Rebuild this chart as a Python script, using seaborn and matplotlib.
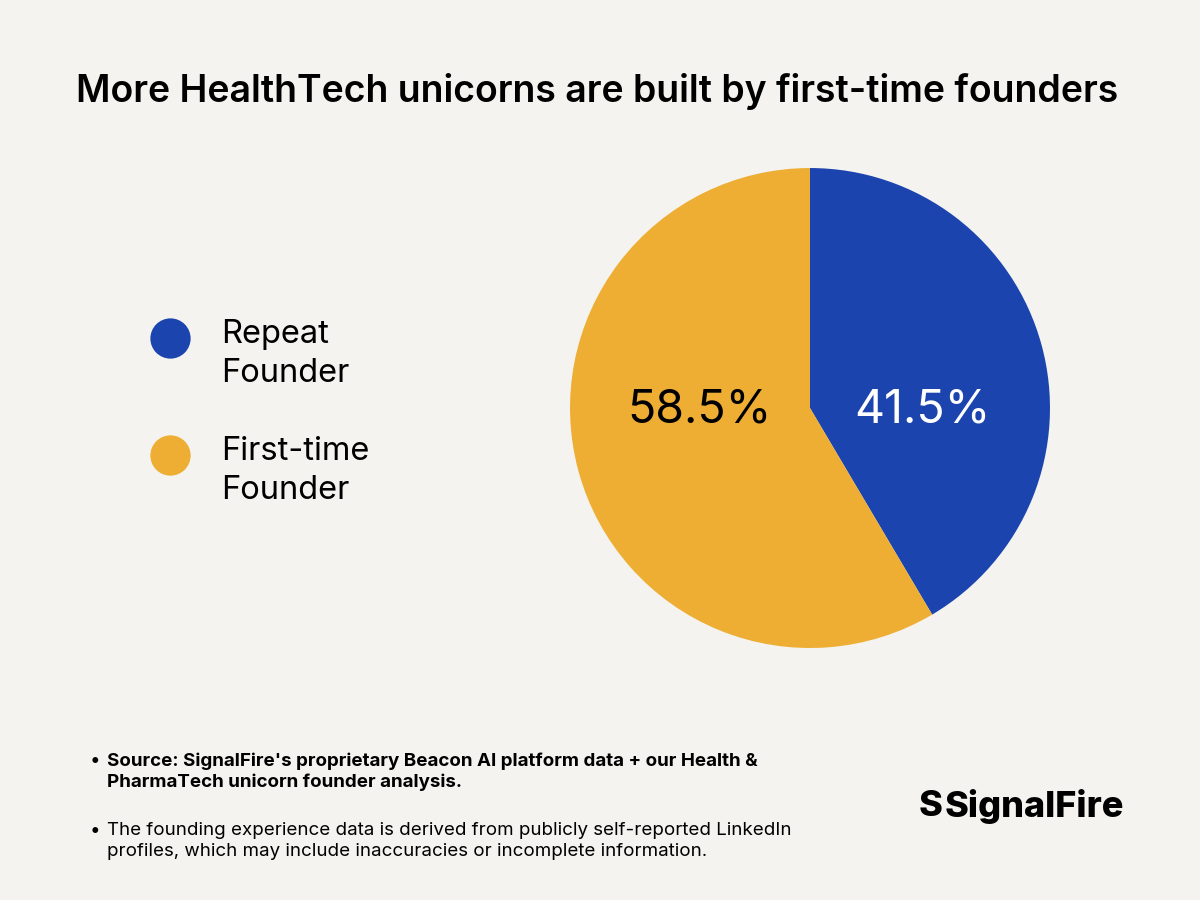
import matplotlib
matplotlib.use("Agg")
import matplotlib.pyplot as plt
from matplotlib.lines import Line2D
from matplotlib.patches import Rectangle
from matplotlib.transforms import Affine2D
import seaborn as sns

# ---- data ----
categories = ["Repeat Founder", "First-time Founder"]
legend_labels = ["Repeat\nFounder", "First-time\nFounder"]
shares = [41.5, 58.5]
pct_labels = ["41.5%", "58.5%"]
title = "More HealthTech unicorns are built by first-time founders"
note_bold = "Source: SignalFire's proprietary Beacon AI platform data + our Health &\nPharmaTech unicorn founder analysis."
note_plain = "The founding experience data is derived from publicly self-reported LinkedIn\nprofiles, which may include inaccuracies or incomplete information."
brand = "SignalFire"

BG = "#F4F3EF"
COLORS = ["#1B44AE", "#EDAE33"]
TXT_COLORS = ["white", "black"]

sns.set_theme(style="white")
plt.rcParams["font.family"] = ["Inter", "DejaVu Sans"]
plt.rcParams["text.color"] = "black"

fig = plt.figure(figsize=(12, 9), dpi=100, facecolor=BG)

# Pie
ax = fig.add_axes([0.475, 0.28, 0.4, 0.5333])
ax.set_facecolor(BG)
wedges, _ = ax.pie(shares, colors=COLORS, startangle=90, counterclock=False,
                   radius=1.0, wedgeprops=dict(linewidth=0))
ax.set_xlim(-1, 1)
ax.set_ylim(-1, 1)
ax.set_aspect("equal")
ax.axis("off")
label_x = [0.47, -0.46]
for lx, txt, c in zip(label_x, pct_labels, TXT_COLORS):
    ax.text(lx, -0.01, txt, ha="center", va="center", fontsize=33.5, color=c)

# Title
fig.text(0.4975, 1 - 91 / 900, title, ha="center", va="center",
         fontsize=26.9, fontweight="semibold", color="black")

# Legend
handles = [Line2D([0], [0], marker="o", linestyle="none", markersize=29,
                  markerfacecolor=c, markeredgewidth=0) for c in COLORS]
leg = fig.legend(handles, legend_labels, loc="upper left",
                 bbox_to_anchor=(149 / 1200, 1 - 319 / 900), frameon=False,
                 fontsize=23.5, handlelength=1.3, handletextpad=0.9,
                 labelspacing=1.45, borderpad=0, borderaxespad=0)
for t in leg.get_texts():
    t.set_linespacing(1.32)
    t.set_color("black")
# lift the dots so they sit beside the first text line, as in the reference
for h in leg.legend_handles:
    h.set_transform(h.get_transform() + Affine2D().translate(0, 16))

# Footnotes
fs = 13.5
for y, txt, w in [(752, note_bold, "bold"), (822, note_plain, "normal")]:
    fig.text(90 / 1200, 1 - y / 900, "•", ha="left", va="top", fontsize=fs,
             color="black")
    fig.text(107 / 1200, 1 - y / 900, txt, ha="left", va="top", fontsize=fs,
             fontweight=w, linespacing=1.33, color="black")

# Brand
fig.text(1124 / 1200, 1 - 807 / 900, brand, ha="right", va="center",
         fontsize=26, fontweight="heavy", color="black")
fig.text(919 / 1200, 1 - 807 / 900, "S", ha="left", va="center",
         fontsize=26, fontweight="heavy", color="black")
fig.add_artist(Rectangle((926 / 1200, 1 - 824 / 900), 3 / 1200, 36 / 900,
                         transform=fig.transFigure, facecolor=BG,
                         edgecolor="none"))

fig.savefig("out.png", dpi=100, facecolor=BG)
